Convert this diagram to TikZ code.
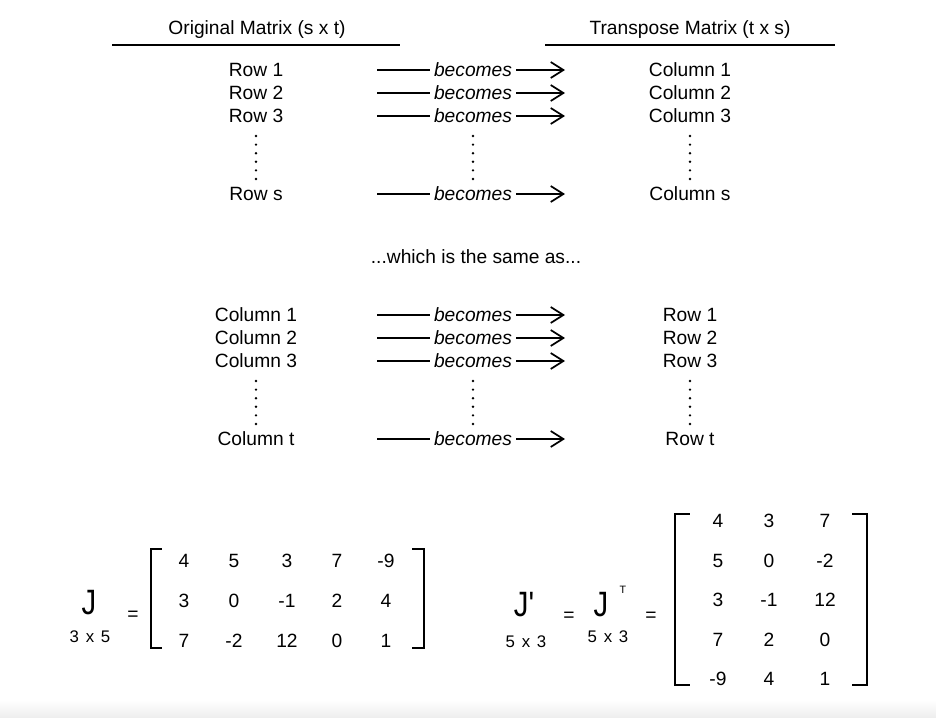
\documentclass[tikz,border=0pt]{standalone}
\usepackage{fontspec}
\setmainfont{Liberation Sans}
\newfontfamily\plainfont{Liberation Sans}
\usepackage{graphicx}
\usepackage{tikz}
\usetikzlibrary{arrows.meta}
\tikzstyle{txt} = [
  inner sep=0pt, text height=10.3pt, text depth=0pt,
  font=\fontsize{14.4}{17}\selectfont
]
\tikzstyle{verbword} = [txt, inner xsep=3pt, font=\fontsize{14.4}{17}\selectfont\itshape]
\tikzstyle{numcell} = [txt]
\tikzstyle{bigsym} = [inner sep=0pt, text height=18.9pt, text depth=0pt, font=\fontsize{22}{26}\selectfont\plainfont]
\tikzstyle{dimlbl} = [inner sep=0pt, text height=9pt, text depth=0pt, font=\fontsize{12.6}{15}\selectfont]
\tikzstyle{supT} = [inner sep=0pt, text height=5.7pt, text depth=0pt, font=\fontsize{8}{10}\selectfont]
\tikzstyle{plainline} = [line width=1.3pt]
\tikzstyle{arrow} = [-{Straight Barb[length=9.5pt, width=12pt, line width=1.3pt]}, line width=1.3pt]
\tikzstyle{rule} = [line width=1.5pt]
\tikzstyle{bracket} = [line width=1.6pt, line cap=rect]
\newcommand{\tallJ}[1]{\scalebox{1}[1.2]{#1}}

\begin{document}
\begin{tikzpicture}[x=0.75pt, y=-0.75pt]
  \useasboundingbox (0,0) rectangle (936,718);
  \shade[top color=white, bottom color=black!7] (0,700) rectangle (936,718);

  % headings
  \node[txt] (orig) at (257,28) {Original Matrix (s x t)};
  \node[txt] (trans) at (690,28) {Transpose Matrix (t x s)};
  \draw[rule] (112,45) -- (400,45);
  \draw[rule] (545,45) -- (835,45);

  % the two lists
  \foreach \y/\a/\b [count=\i] in {70/Row 1/Column 1, 93/Row 2/Column 2,
      116/Row 3/Column 3, 194/Row s/Column s, 315/Column 1/Row 1,
      338/Column 2/Row 2, 361/Column 3/Row 3, 439/Column t/Row t} {
    \node[txt] (from\i) at (256,\y) {\a};
    \node[txt] (to\i) at (690,\y) {\b};
    \node[verbword] (bec\i) at (473,\y) {becomes};
    \coordinate (tail\i) at (377,\y);
    \coordinate (tip\i) at (565,\y);
    \draw[plainline] (tail\i) -- (bec\i.west);
    \draw[arrow] (bec\i.east) -- (tip\i);
  }

  \foreach \x in {256,473,690}
    \foreach \k in {0,...,5} {
      \fill (\x,136+8.6*\k) circle (1pt);
      \fill (\x,381+8.6*\k) circle (1pt);
    }

  \node[txt] (same) at (476,257) {...which is the same as...};

  % J
  \node[bigsym] (J) at (89,602) {\tallJ{J}};
  \node[dimlbl] (Jdim) at (90,636) {3\hspace{.4em}x\hspace{.4em}5};
  \node[txt] (eqA) at (133,614) {=};
  \foreach \x/\a/\b/\c [count=\k] in {184/4/3/7, 234/5/0/-2, 287/3/-1/12,
      337/7/2/0, 386/-9/4/1} {
    \node[numcell] (ja\k) at (\x,561) {\a};
    \node[numcell] (jb\k) at (\x,601) {\b};
    \node[numcell] (jc\k) at (\x,641) {\c};
  }
  \draw[bracket] (161,549) -- (151,549) -- (151,648) -- (161,648);
  \draw[bracket] (413,549) -- (424,549) -- (424,648) -- (413,648);

  % J' = J^T
  \node[bigsym] (Jp) at (524,604) {\tallJ{J'}};
  \node[dimlbl] (Jpdim) at (526,641) {5\hspace{.4em}x\hspace{.4em}3};
  \node[txt] (eqB) at (569,615) {=};
  \node[bigsym] (JT) at (601,604) {\tallJ{J}};
  \node[supT] (T) at (623,590) {T};
  \node[dimlbl] (JTdim) at (608,636) {5\hspace{.4em}x\hspace{.4em}3};
  \node[txt] (eqC) at (651,615) {=};
  \foreach \y/\a/\b/\c [count=\k] in {521/4/3/7, 560.5/5/0/-2, 600/3/-1/12,
      639.5/7/2/0, 679/-9/4/1} {
    \node[numcell] (ta\k) at (718,\y) {\a};
    \node[numcell] (tb\k) at (769,\y) {\b};
    \node[numcell] (tc\k) at (825,\y) {\c};
  }
  \draw[bracket] (689,514) -- (675,514) -- (675,685) -- (689,685);
  \draw[bracket] (853,514) -- (867,514) -- (867,685) -- (853,685);

\end{tikzpicture}
\end{document}
